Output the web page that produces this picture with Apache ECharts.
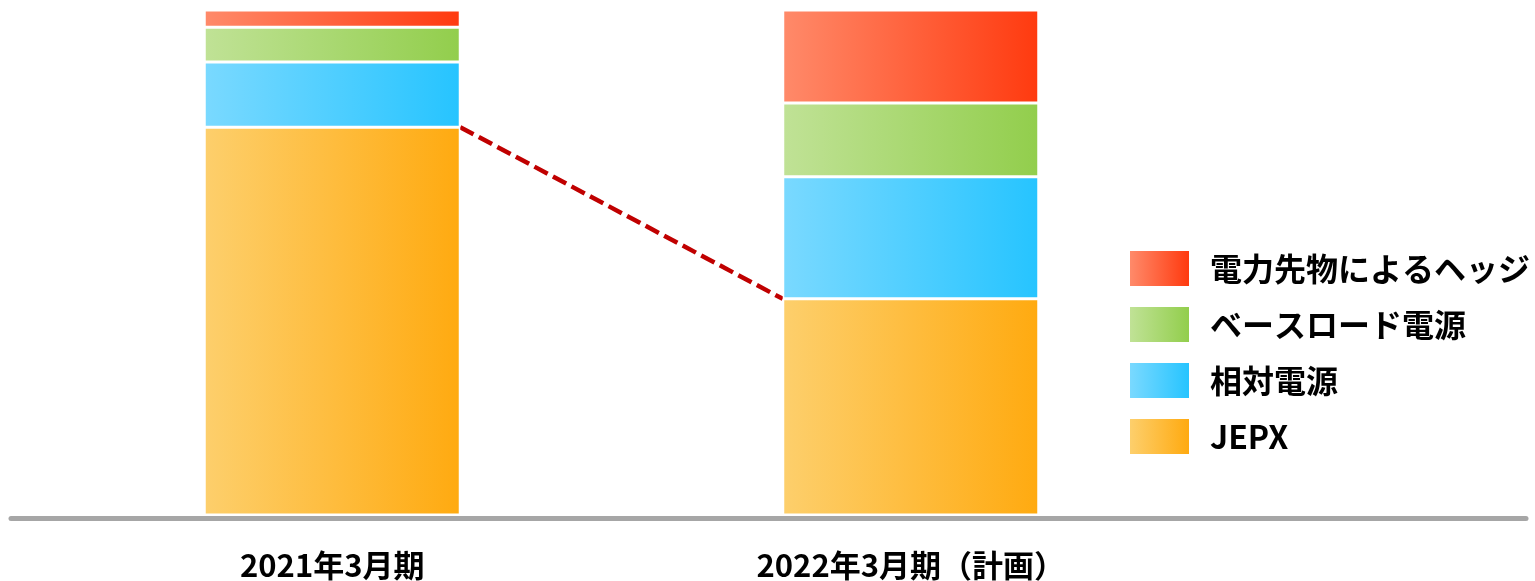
<!DOCTYPE html>
<html lang="ja">
<head>
    <meta charset="UTF-8">
    <title>電源調達構成</title>
    <style>
        html, body { margin: 0; padding: 0; background: #fff; }
        #main { width: 1535px; height: 581px; }
    </style>
</head>
<body>
<div id="main"></div>
<script src="https://cdn.jsdelivr.net/npm/echarts@6/dist/echarts.min.js"></script>
<script>
    // 期ごとの構成比（%）
    const periods = ['2021年3月期', '2022年3月期（計画）'];
    const jepx = [76.8, 42.8];
    const relative = [12.9, 24.2];
    const baseload = [6.9, 14.6];
    const futures = [3.4, 18.4];

    const names = ['電力先物によるヘッジ', 'ベースロード電源', '相対電源', 'JEPX'];

    const barWidth = 256;
    const font = '"Noto Sans CJK JP", "Noto Sans", sans-serif';

    function grad(from, to) {
        return new echarts.graphic.LinearGradient(0, 0, 1, 0, [
            {offset: 0, color: from},
            {offset: 1, color: to}
        ]);
    }

    function barSeries(name, values, from, to) {
        return {
            name: name,
            type: 'bar',
            stack: 'total',
            barWidth: barWidth,
            data: values,
            itemStyle: {
                color: grad(from, to),
                borderColor: '#fff',
                borderWidth: 1.5
            },
            emphasis: {disabled: true}
        };
    }

    const chart = echarts.init(document.getElementById('main'));
    chart.setOption({
        animation: false,
        grid: [
            {left: 43, right: 335, top: 10, bottom: 66},
            // 横幅いっぱいの基準線用
            {left: 11, right: 9, top: 10, bottom: 66}
        ],
        legend: {
            orient: 'vertical',
            left: 1130,
            top: 251,
            padding: 0,
            itemWidth: 59,
            itemHeight: 35,
            itemGap: 21,
            icon: 'rect',
            data: names,
            itemStyle: {borderWidth: 0},
            selectedMode: false,
            textStyle: {
                fontFamily: font,
                fontSize: 32,
                fontWeight: 'bold',
                color: '#000',
                padding: [0, 0, 0, 16]
            }
        },
        xAxis: [
            {
                type: 'category',
                gridIndex: 0,
                data: periods,
                offset: 3,
                axisLine: {show: false},
                axisTick: {show: false},
                axisLabel: {
                    margin: 32,
                    fontFamily: font,
                    fontSize: 31,
                    fontWeight: 'bold',
                    color: '#000'
                }
            },
            {
                type: 'value',
                gridIndex: 1,
                min: 0,
                max: 1,
                offset: 3,
                splitLine: {show: false},
                axisLine: {show: true, onZero: false, lineStyle: {color: '#A6A6A6', width: 5}},
                axisTick: {show: false},
                axisLabel: {show: false}
            }
        ],
        yAxis: [
            {type: 'value', gridIndex: 0, min: 0, max: 100, show: false},
            {type: 'value', gridIndex: 1, min: 0, max: 1, show: false}
        ],
        series: [
            barSeries('JEPX', jepx, '#FDCF6C', '#FFAA10'),
            barSeries('相対電源', relative, '#7AD9FF', '#26C4FF'),
            barSeries('ベースロード電源', baseload, '#C0E296', '#92CE4C'),
            barSeries('電力先物によるヘッジ', futures, '#FF8A6A', '#FF3A0F'),
            {
                // JEPX の減少を示す破線
                type: 'custom',
                silent: true,
                data: [[0, jepx[0], 1, jepx[1]]],
                encode: {x: [0, 2], y: [1, 3]},
                renderItem: function (params, api) {
                    const p1 = api.coord([api.value(0), api.value(1)]);
                    const p2 = api.coord([api.value(2), api.value(3)]);
                    return {
                        type: 'line',
                        shape: {
                            x1: p1[0] + barWidth / 2, y1: p1[1],
                            x2: p2[0] - barWidth / 2, y2: p2[1]
                        },
                        style: {
                            stroke: '#C00000',
                            lineWidth: 4.5,
                            lineDash: [15, 6]
                        }
                    };
                }
            }
        ]
    });
</script>
</body>
</html>
